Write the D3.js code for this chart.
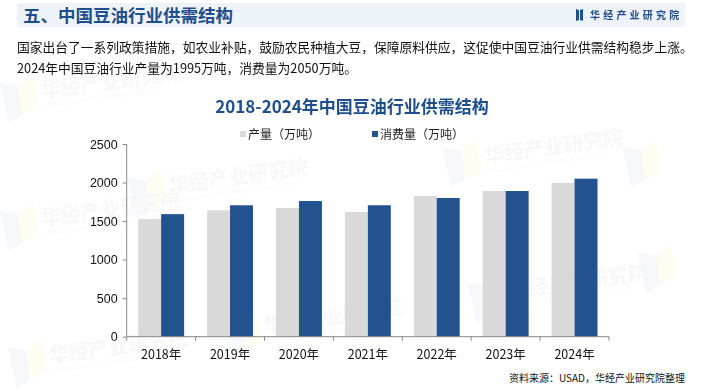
<!DOCTYPE html>
<html><head><meta charset="utf-8">
<script src="https://cdn.jsdelivr.net/npm/d3@7"></script>
<style>
html,body{margin:0;padding:0;background:#fff;}
svg{display:block;font-family:"Noto Sans CJK SC","Liberation Sans",sans-serif;}
</style></head>
<body>
<svg id="c" width="703" height="390"></svg>
<script>
const years = ["2018年","2019年","2020年","2021年","2022年","2023年","2024年"];
const production = [1525, 1640, 1670, 1618, 1825, 1890, 1995];
const consumption = [1590, 1705, 1760, 1705, 1800, 1890, 2050];
const seriesNames = ["产量（万吨）","消费量（万吨）"];
const yTicks = [0, 500, 1000, 1500, 2000, 2500];
const headerTitle = "五、中国豆油行业供需结构";
const bodyLines = ["国家出台了一系列政策措施，如农业补贴，鼓励农民种植大豆，保障原料供应，这促使中国豆油行业供需结构稳步上涨。",
  "2024年中国豆油行业产量为1995万吨，消费量为2050万吨。"];
const chartTitle = "2018-2024年中国豆油行业供需结构";
const sourceText = "资料来源：USAD，华经产业研究院整理";
const brand = "华经产业研究院";

const colors = ["#d9d9d9", "#22538f"];
const dark = "#1f4e8c";
const svg = d3.select("#c");

// watermarks
const wm = svg.append("g").attr("opacity", 0.45);
const wmPos = [[2,100,true],[130,195,true],[445,165,true],[470,300,true],[225,335,true],[10,365,true],[625,165,false],[640,270,false],[2,228,true]];
wmPos.forEach(([px,py,withText]) => {
  const g = wm.append("g").attr("transform", `translate(${px},${py}) rotate(-8)`);
  g.append("path").attr("d","M0,-18 L18,-12 L18,18 L3,24 Z").attr("fill","#dde6f3").attr("opacity",0.6);
  g.append("path").attr("d","M18,-12 L34,-22 L36,10 L18,18 Z").attr("fill","#fdf3cf").attr("opacity",0.6);
  if (withText) {
    g.append("text").attr("x",40).attr("y",4).attr("font-size",20).attr("font-weight","bold")
      .attr("fill","#eeeeee").text(brand);
    g.append("text").attr("x",42).attr("y",14).attr("font-size",6)
      .attr("fill","#eeeeee").text("HUAJING INDUSTRY RESEARCH INSTITUTE");
  }
});

// header band
svg.append("rect").attr("x",17).attr("y",3).attr("width",668).attr("height",24).attr("fill","#eef2f9");
svg.append("text").attr("x",23).attr("y",22).attr("font-size",17.5).attr("font-weight","bold")
  .attr("fill",dark).text(headerTitle);
// logo
const lg = svg.append("g").attr("transform","translate(576,9)");
lg.append("path").attr("d","M0,0 L3,1 L3,11 L0,12 Z").attr("fill",dark);
lg.append("path").attr("d","M4,1 L7,0 L7,12 L4,11 Z").attr("fill",dark);
svg.append("text").attr("x",590).attr("y",19).attr("font-size",10).attr("font-weight","bold")
  .attr("letter-spacing",3.2).attr("fill",dark).text(brand);

// body text
bodyLines.forEach((t,i) => {
  svg.append("text").attr("x",17).attr("y",52 + i*21).attr("font-size",12.75)
    .attr("fill","#111").text(t);
});

// chart title
svg.append("text").attr("x",352).attr("y",113).attr("text-anchor","middle")
  .attr("font-size",17).attr("font-weight","bold").attr("fill",dark).text(chartTitle);

// legend
const legendX = [240, 372];
seriesNames.forEach((n,i) => {
  svg.append("rect").attr("x",legendX[i]).attr("y",131).attr("width",6).attr("height",6).attr("fill",colors[i]);
  svg.append("text").attr("x",legendX[i]+8).attr("y",139).attr("font-size",12).attr("fill","#222").text(n);
});

// scales
const pL = 126.7, pR = 609, pT = 144, pB = 336.7;
const x = d3.scaleBand().domain(years).range([pL, pR]).paddingInner(0).paddingOuter(0);
const x1 = d3.scaleBand().domain([0,1]).range([0, x.bandwidth()]).paddingOuter(0.5).paddingInner(0);
const y = d3.scaleLinear().domain([0, 2500]).range([pB, pT]);

// bars
const data = [production, consumption];
const groups = svg.append("g").selectAll("g").data(years).join("g")
  .attr("transform", d => `translate(${x(d)},0)`);
groups.selectAll("rect").data((d,i) => data.map((s,k) => ({k, v: s[i]}))).join("rect")
  .attr("x", d => x1(d.k)).attr("width", x1.bandwidth())
  .attr("y", d => y(d.v)).attr("height", d => pB - y(d.v))
  .attr("fill", d => colors[d.k]);

// y axis
const ya = svg.append("g").attr("transform",`translate(${pL},0)`)
  .call(d3.axisLeft(y).tickValues(yTicks).tickSize(4).tickPadding(5).tickFormat(d3.format("d")));
ya.selectAll("path,line").attr("stroke","#888");
ya.select(".domain").attr("d",`M0,${pT}V${pB}`);
ya.selectAll("text").attr("font-size",12.5).attr("fill","#111").attr("font-family","Liberation Sans, Arial, sans-serif");

// x axis
const xa = svg.append("g").attr("transform",`translate(0,${pB})`);
xa.append("line").attr("x1",pL).attr("x2",pR).attr("stroke","#888");
const bounds = [pL, ...years.map(d => x(d) + x.bandwidth())];
xa.selectAll("line.t").data(bounds).join("line").attr("class","t")
  .attr("x1",d=>d).attr("x2",d=>d).attr("y1",0).attr("y2",4).attr("stroke","#888");
xa.selectAll("text").data(years).join("text")
  .attr("x", d => x(d) + x.bandwidth()/2).attr("y", 22).attr("text-anchor","middle")
  .attr("font-size",12.5).attr("fill","#111").text(d => d);

// source
svg.append("text").attr("x",685).attr("y",382).attr("text-anchor","end")
  .attr("font-size",10).attr("fill","#111").text(sourceText);
</script>
</body></html>
